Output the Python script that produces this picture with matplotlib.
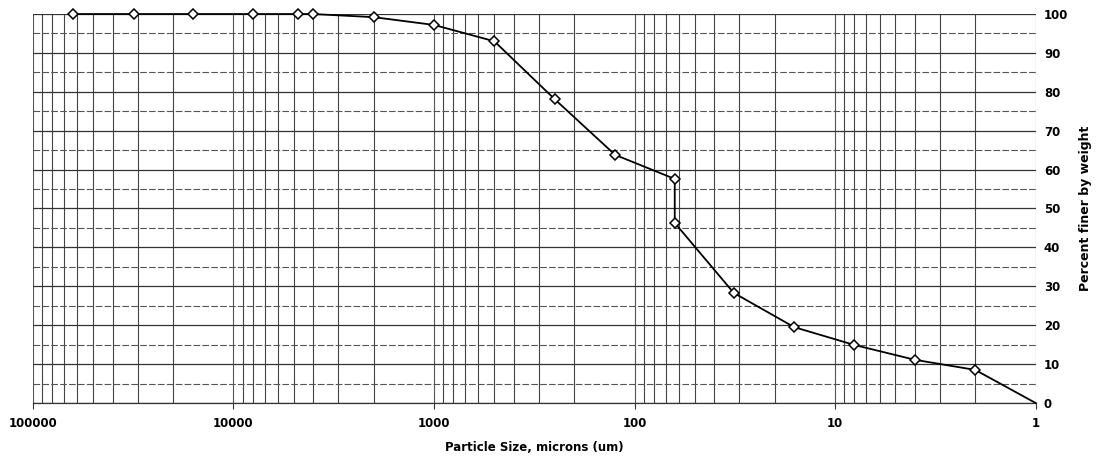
import numpy as np
import matplotlib.pyplot as plt
from matplotlib.ticker import FixedLocator, LogLocator, NullFormatter

# particle size (microns) and percent finer
size = [63000, 31500, 16000, 8000, 4750, 4000, 2000, 1000, 500, 250, 125, 63, 63, 32, 16, 8, 4, 2, 1]
finer = [100, 100, 100, 100, 100, 100, 99.2, 97.2, 93.0, 78.1, 63.8, 57.6, 46.3, 28.3, 19.5, 14.9, 11.1, 8.5, 0]
xticks = [100000, 10000, 1000, 100, 10, 1]
xticklabels = ['100000', '10000', '1000', '100', '10', '1']

fig = plt.figure(figsize=(10.97, 4.68), dpi=100)
ax = fig.add_axes([0.030, 0.139, 0.914, 0.831])

ax.set_xscale('log')
ax.set_xlim(100000, 1)
ax.set_ylim(0, 100)

ax.xaxis.set_major_locator(FixedLocator(xticks))
ax.set_xticklabels(xticklabels, fontweight='bold', fontsize=8.5)
ax.xaxis.set_minor_locator(LogLocator(base=10, subs=np.arange(2, 10), numticks=20))
ax.xaxis.set_minor_formatter(NullFormatter())

ax.yaxis.tick_right()
ax.yaxis.set_label_position('right')
ax.set_yticks(range(0, 101, 10))
ax.set_yticks(range(5, 100, 10), minor=True)
for lab in ax.get_yticklabels():
    lab.set_fontweight('bold')
    lab.set_fontsize(8.5)

ax.grid(which='major', axis='y', color='#333333', lw=0.9)
ax.grid(which='major', axis='x', color='#555555', lw=0.8)
ax.grid(which='minor', axis='x', color='#444444', lw=0.8)
ax.grid(which='minor', axis='y', color='#555555', lw=0.8, ls=(0, (6, 2)))
ax.tick_params(which='both', length=0, pad=6)
ax.tick_params(axis='x', which='major', length=4, color='#333333')

for s in ['top', 'left', 'right']:
    ax.spines[s].set_visible(False)
ax.spines['bottom'].set_color('#333333')
ax.spines['bottom'].set_linewidth(0.9)

ax.plot(size, finer, color='black', lw=1.3, marker='D', ms=5.5, mfc='white',
        mec='black', mew=1.1, markevery=list(range(len(size) - 1)), zorder=3, clip_on=False)

ax.set_xlabel('Particle Size, microns (um)', fontweight='bold', fontsize=8.5, labelpad=8)
ax.set_ylabel('Percent finer by weight', fontweight='bold', fontsize=9, labelpad=8)

fig.savefig('out.png', dpi=100)
